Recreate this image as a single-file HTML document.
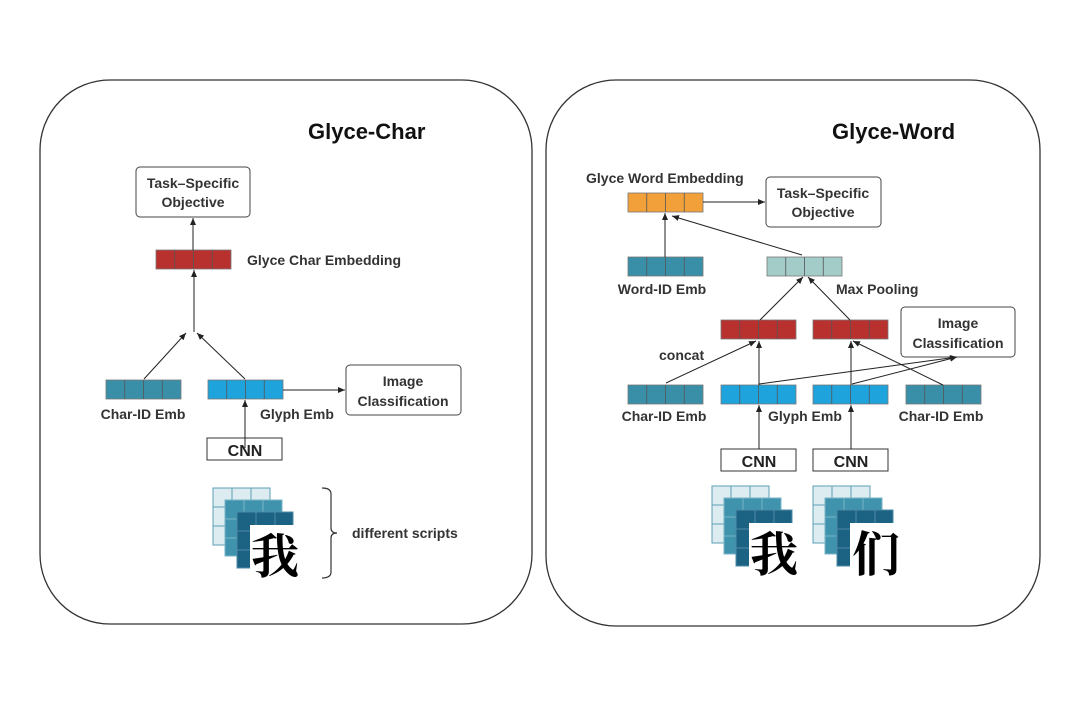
<!DOCTYPE html>
<html><head><meta charset="utf-8"><style>
html,body{margin:0;padding:0;background:#fff;}
svg{display:block;}
text{font-family:"Liberation Sans","Noto Sans CJK SC",sans-serif;fill:#333;font-weight:bold;}
.cjk{font-family:"Noto Serif CJK SC",serif;font-weight:700;fill:#000;}
</style></head><body>
<svg width="1080" height="716" viewBox="0 0 1080 716" xmlns="http://www.w3.org/2000/svg">
<defs>
<marker id="ah" markerWidth="8" markerHeight="8" refX="7" refY="4" orient="auto" markerUnits="userSpaceOnUse">
<path d="M0,1 L7,4 L0,7 z" fill="#222"/></marker>
<g id="bar4">
<rect x="0" y="0" width="75" height="19" stroke="#777" stroke-width="0.8"/>
<line x1="18.75" y1="0" x2="18.75" y2="19" stroke="#555" stroke-width="0.8"/>
<line x1="37.5" y1="0" x2="37.5" y2="19" stroke="#555" stroke-width="0.8"/>
<line x1="56.25" y1="0" x2="56.25" y2="19" stroke="#555" stroke-width="0.8"/>
</g>
<g id="stack">
<rect x="0" y="0" width="57" height="57" fill="#dcecf1" stroke="#5c9fb6" stroke-width="1"/>
<path d="M19,0V57M38,0V57M0,19H57M0,38H57" stroke="#5c9fb6" stroke-width="1"/>
<rect x="12" y="12" width="57" height="56" fill="#3f93ad" stroke="#7ab5c8" stroke-width="1"/>
<path d="M31,12V68M50,12V68M12,31H69M12,50H69" stroke="#7ab5c8" stroke-width="1"/>
<rect x="24" y="24" width="56" height="56" fill="#1b6283" stroke="#4d8aa6" stroke-width="1"/>
<path d="M43,24V80M62,24V80M24,43H80M24,62H80" stroke="#4d8aa6" stroke-width="1"/>
<rect x="37" y="37" width="52" height="58" fill="#fff"/>
</g>
</defs>

<rect x="40" y="80" width="492" height="544" rx="70" fill="none" stroke="#333" stroke-width="1.3"/>
<rect x="546" y="80" width="494" height="546" rx="70" fill="none" stroke="#333" stroke-width="1.3"/>

<text x="308" y="139" font-size="22" style="fill:#111">Glyce-Char</text>
<rect x="136" y="167" width="114" height="50" rx="4" fill="#fff" stroke="#444"/>
<text x="193" y="188" font-size="14" text-anchor="middle">Task–Specific</text>
<text x="193" y="207" font-size="14" text-anchor="middle">Objective</text>
<use href="#bar4" x="156" y="250" fill="#b8312f"/>
<text x="247" y="265" font-size="14">Glyce Char Embedding</text>
<line x1="193" y1="250" x2="193" y2="218" stroke="#222" marker-end="url(#ah)"/>
<line x1="194" y1="332" x2="194" y2="270" stroke="#222" marker-end="url(#ah)"/>
<line x1="144" y1="379" x2="186" y2="333" stroke="#222" marker-end="url(#ah)"/>
<line x1="245" y1="379" x2="197" y2="333" stroke="#222" marker-end="url(#ah)"/>
<use href="#bar4" x="106" y="380" fill="#3a8fa8"/>
<use href="#bar4" x="208" y="380" fill="#1fa3dc"/>
<text x="143" y="419" font-size="14" text-anchor="middle">Char-ID Emb</text>
<text x="260" y="419" font-size="14">Glyph Emb</text>
<line x1="283" y1="390" x2="345" y2="390" stroke="#222" marker-end="url(#ah)"/>
<rect x="346" y="365" width="115" height="50" rx="4" fill="#fff" stroke="#444"/>
<text x="403" y="386" font-size="14" text-anchor="middle">Image</text>
<text x="403" y="406" font-size="14" text-anchor="middle">Classification</text>
<rect x="207" y="438" width="75" height="22" fill="#fff" stroke="#333"/>
<text x="245" y="456" font-size="16" text-anchor="middle" style="fill:#222">CNN</text>
<line x1="245" y1="448" x2="245" y2="400" stroke="#222" marker-end="url(#ah)"/>
<use href="#stack" x="213" y="488"/>
<text x="275" y="573" font-size="48" text-anchor="middle" class="cjk">我</text>
<path d="M322,488 Q331,488 331,494 V528 Q331,533 337,533 Q331,533 331,538 V572 Q331,578 322,578" fill="none" stroke="#333" stroke-width="1.2"/>
<text x="352" y="538" font-size="14">different scripts</text>

<text x="832" y="139" font-size="22" style="fill:#111">Glyce-Word</text>
<text x="586" y="183" font-size="14">Glyce Word Embedding</text>
<use href="#bar4" x="628" y="193" fill="#f2a03a"/>
<rect x="766" y="177" width="115" height="50" rx="4" fill="#fff" stroke="#444"/>
<text x="823" y="198" font-size="14" text-anchor="middle">Task–Specific</text>
<text x="823" y="217" font-size="14" text-anchor="middle">Objective</text>
<line x1="703" y1="202" x2="765" y2="202" stroke="#222" marker-end="url(#ah)"/>
<use href="#bar4" x="628" y="257" fill="#3a8fa8"/>
<text x="662" y="294" font-size="14" text-anchor="middle">Word-ID Emb</text>
<line x1="665" y1="257" x2="665" y2="213" stroke="#222" marker-end="url(#ah)"/>
<use href="#bar4" x="767" y="257" fill="#a3cbc8"/>
<line x1="802" y1="255" x2="672" y2="216" stroke="#222" marker-end="url(#ah)"/>
<text x="836" y="294" font-size="14">Max Pooling</text>
<use href="#bar4" x="721" y="320" fill="#b8312f"/>
<use href="#bar4" x="813" y="320" fill="#b8312f"/>
<line x1="760" y1="320" x2="803" y2="277" stroke="#222" marker-end="url(#ah)"/>
<line x1="850" y1="320" x2="808" y2="277" stroke="#222" marker-end="url(#ah)"/>
<rect x="901" y="307" width="114" height="50" rx="4" fill="#fff" stroke="#444"/>
<text x="958" y="328" font-size="14" text-anchor="middle">Image</text>
<text x="958" y="348" font-size="14" text-anchor="middle">Classification</text>
<text x="659" y="360" font-size="14">concat</text>
<use href="#bar4" x="628" y="385" fill="#3a8fa8"/>
<use href="#bar4" x="721" y="385" fill="#1fa3dc"/>
<use href="#bar4" x="813" y="385" fill="#1fa3dc"/>
<use href="#bar4" x="906" y="385" fill="#3a8fa8"/>
<line x1="666" y1="383" x2="756" y2="341" stroke="#222" marker-end="url(#ah)"/>
<line x1="759" y1="385" x2="759" y2="341" stroke="#222" marker-end="url(#ah)"/>
<line x1="851" y1="385" x2="851" y2="341" stroke="#222" marker-end="url(#ah)"/>
<line x1="943" y1="385" x2="853" y2="341" stroke="#222" marker-end="url(#ah)"/>
<line x1="759" y1="384" x2="957" y2="357" stroke="#222" marker-end="url(#ah)"/>
<line x1="852" y1="384" x2="957" y2="357" stroke="#222" marker-end="url(#ah)"/>
<text x="664" y="421" font-size="14" text-anchor="middle">Char-ID Emb</text>
<text x="768" y="421" font-size="14">Glyph Emb</text>
<text x="941" y="421" font-size="14" text-anchor="middle">Char-ID Emb</text>
<rect x="721" y="449" width="75" height="22" fill="#fff" stroke="#333"/>
<text x="759" y="467" font-size="16" text-anchor="middle" style="fill:#222">CNN</text>
<rect x="813" y="449" width="75" height="22" fill="#fff" stroke="#333"/>
<text x="851" y="467" font-size="16" text-anchor="middle" style="fill:#222">CNN</text>
<line x1="759" y1="449" x2="759" y2="405" stroke="#222" marker-end="url(#ah)"/>
<line x1="851" y1="449" x2="851" y2="405" stroke="#222" marker-end="url(#ah)"/>
<use href="#stack" x="712" y="486"/>
<text x="774" y="571" font-size="48" text-anchor="middle" class="cjk">我</text>
<use href="#stack" x="813" y="486"/>
<text x="876" y="571" font-size="48" text-anchor="middle" class="cjk">们</text>
</svg>
</body></html>
